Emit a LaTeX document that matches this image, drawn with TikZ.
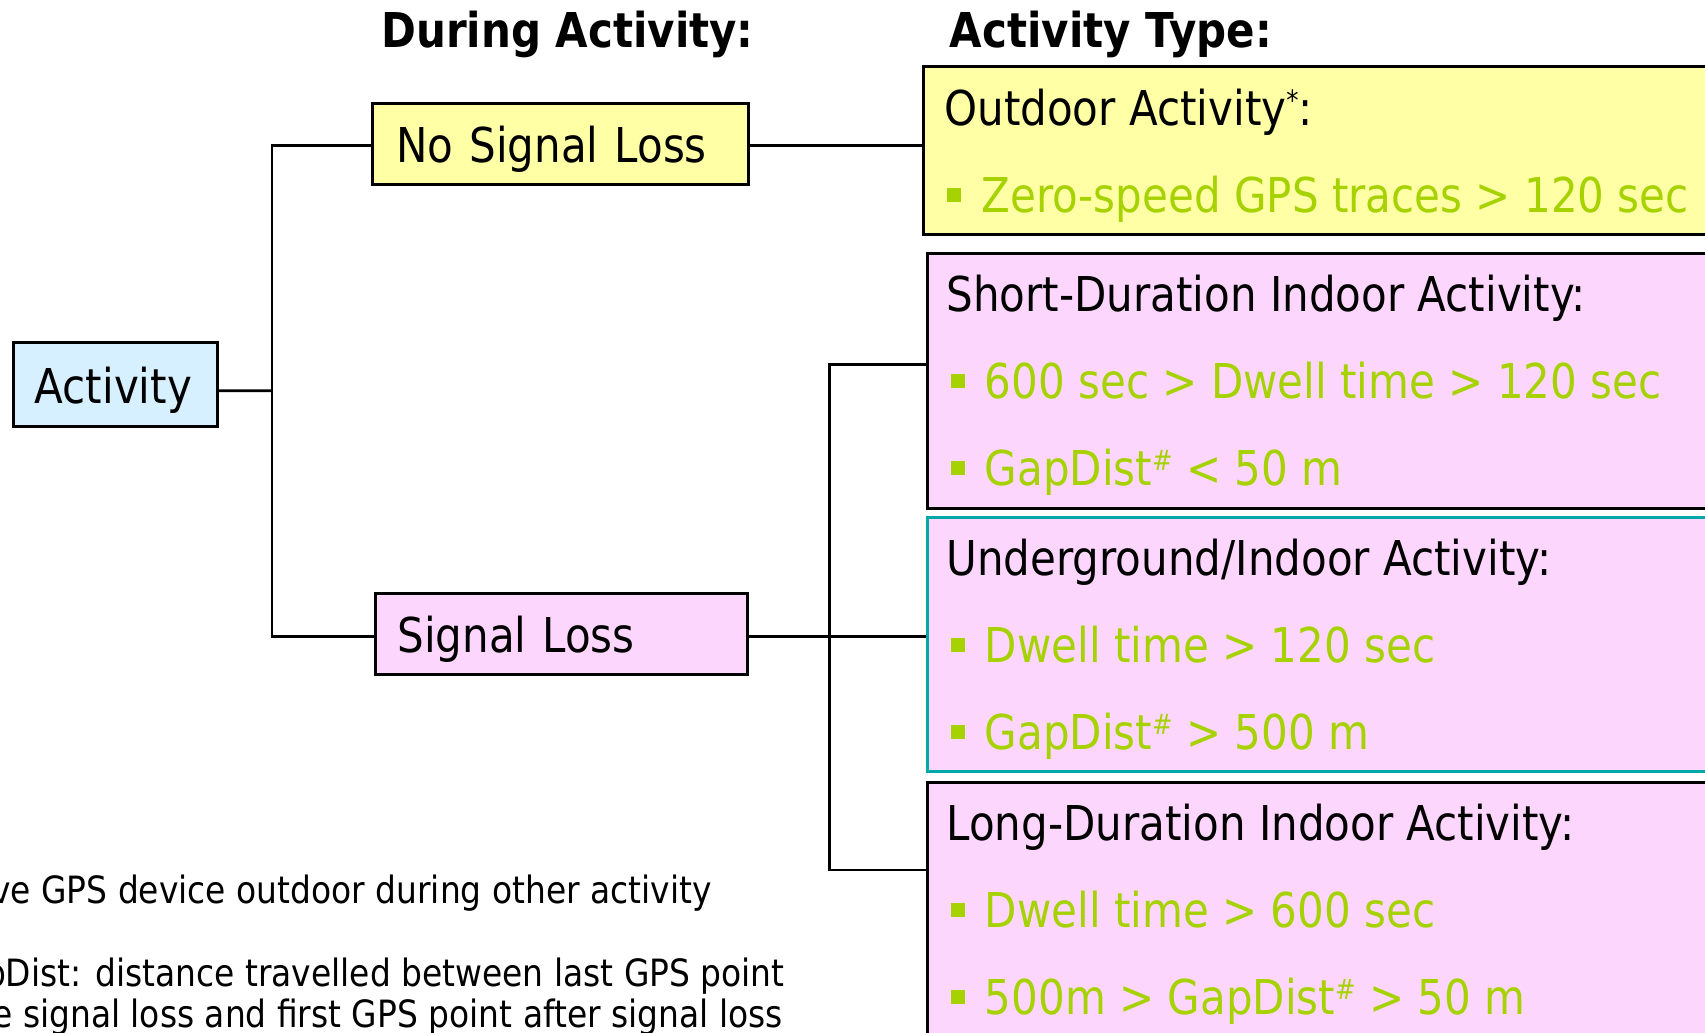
\documentclass[tikz,border=0pt]{standalone}
\usepackage{fontspec}
\setmainfont[FakeStretch=0.875]{DejaVu Sans}
\definecolor{boxyellow}{RGB}{255,255,166}
\definecolor{boxpink}{RGB}{253,214,253}
\definecolor{boxblue}{RGB}{214,240,255}
\definecolor{itemgreen}{RGB}{165,210,0}
\definecolor{rimteal}{RGB}{0,168,168}
\newcommand{\bigtxt}{\fontsize{24}{28}\selectfont}
\newcommand{\sqbullet}{\rule[5.25pt]{7pt}{7pt}\hspace{10pt}}
\newcommand{\supmark}[1]{\raisebox{7.5pt}{\fontsize{14}{14}\selectfont #1}}
\tikzset{
  conn/.style={draw=black, line width=1.4pt},
  frame/.style={draw=black, line width=1.5pt, inner sep=0pt, anchor=north west},
  label box/.style={draw=black, line width=1.5pt, font=\bigtxt, align=left,
    inner ysep=0pt, text depth=10.8pt, text height=29.7pt, anchor=west},
  heading/.style={font=\bigtxt\bfseries, inner sep=0pt, anchor=base},
  ttl/.style={font=\bigtxt, inner sep=0pt, anchor=base west},
  itm/.style={ttl, text=itemgreen},
  note/.style={font=\fontsize{18.8}{22}\selectfont, inner sep=0pt, anchor=base east}
}
\begin{document}
\begin{tikzpicture}[x=0.5pt, y=-0.5pt]
\useasboundingbox (0,0) rectangle (1705,1033);
\clip (0,0) rectangle (1705,1033);

% column headings
\node[heading] (hdA) at (567.5,47) {During Activity:};
\node[heading] (hdB) at (1111,47) {Activity Type:};

% left-hand tree
\node[label box, fill=boxblue, inner xsep=10.8pt, text width=80.55pt,
      text depth=11.35pt, text height=30.3pt] (act) at (11.7,384.35) {Activity};
\node[label box, fill=boxyellow, inner xsep=12.15pt, text width=163.7pt] (nsl) at (370.7,143.8) {No Signal Loss};
\node[label box, fill=boxpink, inner xsep=11pt, text width=164pt] (sl) at (374,633.5) {Signal Loss};

% activity-type boxes
\node[frame, fill=boxyellow, minimum width=399pt, minimum height=84pt] (out) at (922,65) {};
\node[frame, fill=boxpink, minimum width=399pt, minimum height=127.5pt] (sh) at (925.5,252) {};
\node[frame, fill=boxpink, draw=rimteal, minimum width=399pt, minimum height=127.25pt] (ug) at (925.5,515.5) {};
\node[frame, fill=boxpink, minimum width=399pt, minimum height=150pt] (lg) at (925.5,781) {};

% connectors
\coordinate (lt) at (272,390.7);
\coordinate (rt) at (829.5,636.7);
\draw[conn] ([yshift=-3.2pt]act.east) -- (lt);
\draw[conn] ([yshift=-1pt]nsl.west) -| (lt) |- ([yshift=-1.5pt]sl.west);
\draw[conn] ([yshift=-1pt]nsl.east) -- ([yshift=-1pt]nsl.east -| out.west);
\draw[conn] ([yshift=-1.5pt]sl.east) -- ([yshift=-1.5pt]sl.east -| ug.west);
\draw[conn] ([yshift=-56.15pt]sh.north west) -| (rt) |- ([yshift=-44.5pt]lg.north west);

% box contents
\node[ttl] (outT) at (944,125) {Outdoor Activity\supmark{*}:};
\node[itm] (out1) at (947,212) {\sqbullet Zero-speed GPS traces > 120 sec};

\node[ttl] (shT) at (946,311) {Short-Duration Indoor Activity:};
\node[itm] (sh1) at (950.5,398) {\sqbullet 600 sec > Dwell time > 120 sec};
\node[itm] (sh2) at (950.5,485.5) {\sqbullet GapDist\supmark{\#} < 50 m};

\node[ttl] (ugT) at (946,575) {Underground/Indoor Activity:};
\node[itm] (ug1) at (950.5,662) {\sqbullet Dwell time > 120 sec};
\node[itm] (ug2) at (950.5,749.5) {\sqbullet GapDist\supmark{\#} > 500 m};

\node[ttl] (lgT) at (946,840) {Long-Duration Indoor Activity:};
\node[itm] (lg1) at (950.5,927) {\sqbullet Dwell time > 600 sec};
\node[itm] (lg2) at (950.5,1014) {\sqbullet 500m > GapDist\supmark{\#} > 50 m};

% footnotes
\node[note] (n1) at (712,903) {ve GPS device outdoor during other activity};
\node[note] (n2) at (785,986.7) {pDist: distance travelled between last GPS point};
\node[note] (n3) at (783,1027.6) {e signal loss and first GPS point after signal loss};
\end{tikzpicture}
\end{document}
